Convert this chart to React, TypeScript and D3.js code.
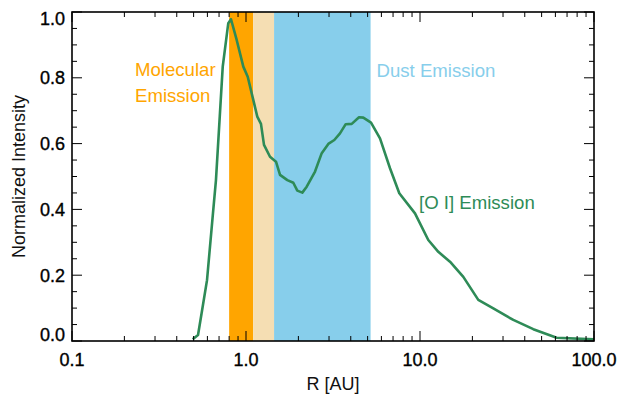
import React, { useEffect, useRef } from "react";
import * as d3 from "d3";

// radial profile of the [O I] emission
const radius = [
  0.494, 0.53, 0.556, 0.597, 0.646, 0.672, 0.735, 0.791, 0.82, 0.884, 0.965,
  1.023, 1.101, 1.161, 1.219, 1.269, 1.374, 1.487, 1.569, 1.728, 1.87, 1.972,
  2.107, 2.233, 2.493, 2.724, 2.972, 3.218, 3.469, 3.741, 4.052, 4.461, 4.722,
  5.23, 5.89, 6.724, 7.603, 9.36, 11.16, 12.74, 14.87, 17.74, 21.63, 26.38,
  34.38, 44.78, 61.03, 100,
];
const intensity = [
  0.005, 0.018, 0.085, 0.185, 0.389, 0.489, 0.834, 0.966, 0.978, 0.915, 0.834,
  0.803, 0.733, 0.682, 0.66, 0.596, 0.56, 0.545, 0.505, 0.489, 0.481, 0.457,
  0.451, 0.469, 0.515, 0.571, 0.599, 0.611, 0.631, 0.659, 0.66, 0.68, 0.679,
  0.664, 0.616, 0.525, 0.449, 0.388, 0.307, 0.271, 0.241, 0.195, 0.125, 0.099,
  0.064, 0.036, 0.01, 0.005,
];

// shaded zones (AU)
const bandNames = ["molecular", "transition", "dust"];
const bandFrom = [0.8, 1.1, 1.45];
const bandTo = [1.1, 1.45, 5.2];
const bandColors = ["#ffa500", "#f5deb3", "#87ceeb"];

const xTicks = [0.1, 1, 10, 100];
const xTickLabels = ["0.1", "1.0", "10.0", "100.0"];
const yTicks = [0, 0.2, 0.4, 0.6, 0.8, 1.0];
const yTickLabels = ["0.0", "0.2", "0.4", "0.6", "0.8", "1.0"];

function App() {
  const svgRef = useRef<SVGSVGElement>(null);

  useEffect(() => {
    const w = 619;
    const h = 396;
    const m = { left: 72, right: 25, top: 12, bottom: 55 };
    const font = "'Liberation Sans', Arial, Helvetica, sans-serif";

    const svg = d3.select(svgRef.current).attr("width", w).attr("height", h);
    svg.selectAll("*").remove();

    const x = d3.scaleLog().domain([0.1, 100]).range([m.left, w - m.right]);
    const y = d3.scaleLinear().domain([0, 1]).range([h - m.bottom, m.top]);
    const [x0, x1] = x.range();
    const [y0, y1] = y.range();

    svg
      .append("rect")
      .attr("width", w)
      .attr("height", h)
      .attr("fill", "white");

    svg
      .selectAll(".band")
      .data(bandNames)
      .join("rect")
      .attr("class", "band")
      .attr("x", (d, i) => x(bandFrom[i]))
      .attr("y", y1)
      .attr("width", (d, i) => x(bandTo[i]) - x(bandFrom[i]))
      .attr("height", y0 - y1)
      .attr("fill", (d, i) => bandColors[i]);

    const line = d3
      .line<number>()
      .x((d, i) => x(radius[i]))
      .y((d) => y(d))
      .curve(d3.curveLinear);

    svg
      .append("path")
      .datum(intensity)
      .attr("d", line)
      .attr("fill", "none")
      .attr("stroke", "#2e8b57")
      .attr("stroke-width", 2.6)
      .attr("stroke-linejoin", "round");

    // ticks on all four sides, pointing inward
    const xMinor = x.ticks().filter((v) => !xTicks.includes(v));
    const yMinor = d3.range(0, 1.0001, 0.05).filter((v) => Math.round(v * 100) % 20 !== 0);
    const ticks = svg.append("g").attr("stroke", "black").attr("stroke-width", 1);

    const xt = [
      ...xTicks.map((v) => ({ v, len: 10 })),
      ...xMinor.map((v) => ({ v, len: 5 })),
    ];
    xt.forEach(({ v, len }) => {
      ticks.append("line").attr("x1", x(v)).attr("x2", x(v)).attr("y1", y0).attr("y2", y0 - len);
      ticks.append("line").attr("x1", x(v)).attr("x2", x(v)).attr("y1", y1).attr("y2", y1 + len);
    });
    const yt = [
      ...yTicks.map((v) => ({ v, len: 10 })),
      ...yMinor.map((v) => ({ v, len: 5 })),
    ];
    yt.forEach(({ v, len }) => {
      ticks.append("line").attr("y1", y(v)).attr("y2", y(v)).attr("x1", x0).attr("x2", x0 + len);
      ticks.append("line").attr("y1", y(v)).attr("y2", y(v)).attr("x1", x1).attr("x2", x1 - len);
    });

    svg
      .append("rect")
      .attr("x", x0)
      .attr("y", y1)
      .attr("width", x1 - x0)
      .attr("height", y0 - y1)
      .attr("fill", "none")
      .attr("stroke", "black")
      .attr("stroke-width", 1.6);

    svg
      .selectAll(".xlab")
      .data(xTicks)
      .join("text")
      .attr("class", "xlab")
      .attr("x", (d) => x(d))
      .attr("y", y0 + 25)
      .attr("text-anchor", "middle")
      .attr("font-family", font)
      .attr("font-size", 18)
      .attr("stroke", "black")
      .attr("stroke-width", 0.35)
      .text((d, i) => xTickLabels[i]);

    svg
      .selectAll(".ylab")
      .data(yTicks)
      .join("text")
      .attr("class", "ylab")
      .attr("x", x0 - 7)
      .attr("y", (d) => Math.min(Math.max(y(d), y1 + 6.5), y0 - 6.5) + 6.5)
      .attr("text-anchor", "end")
      .attr("font-family", font)
      .attr("font-size", 18)
      .attr("stroke", "black")
      .attr("stroke-width", 0.35)
      .text((d, i) => yTickLabels[i]);

    svg
      .append("text")
      .attr("x", (x0 + x1) / 2)
      .attr("y", 390)
      .attr("text-anchor", "middle")
      .attr("font-family", font)
      .attr("font-size", 18)
      .attr("fill", "#111")
      .text("R [AU]");

    svg
      .append("text")
      .attr("transform", `translate(25,${(y0 + y1) / 2}) rotate(-90)`)
      .attr("text-anchor", "middle")
      .attr("font-family", font)
      .attr("font-size", 18)
      .attr("fill", "#111")
      .text("Normalized Intensity");

    const notes = [
      { t: "Molecular", px: 135, py: 76, c: "#ffa500" },
      { t: "Emission", px: 135, py: 101.5, c: "#ffa500" },
      { t: "Dust Emission", px: 376.5, py: 77, c: "#87ceeb" },
      { t: "[O I] Emission", px: 419, py: 209, c: "#2e8b57" },
    ];
    notes.forEach((n) => {
      svg
        .append("text")
        .attr("x", n.px)
        .attr("y", n.py)
        .attr("font-family", font)
        .attr("font-size", 18.6)
        .attr("fill", n.c)
        .text(n.t);
    });
  }, []);

  return (
    <svg
      ref={svgRef}
      style={{ position: "absolute", left: 0, top: 0, display: "block" }}
    ></svg>
  );
}

export default App;
